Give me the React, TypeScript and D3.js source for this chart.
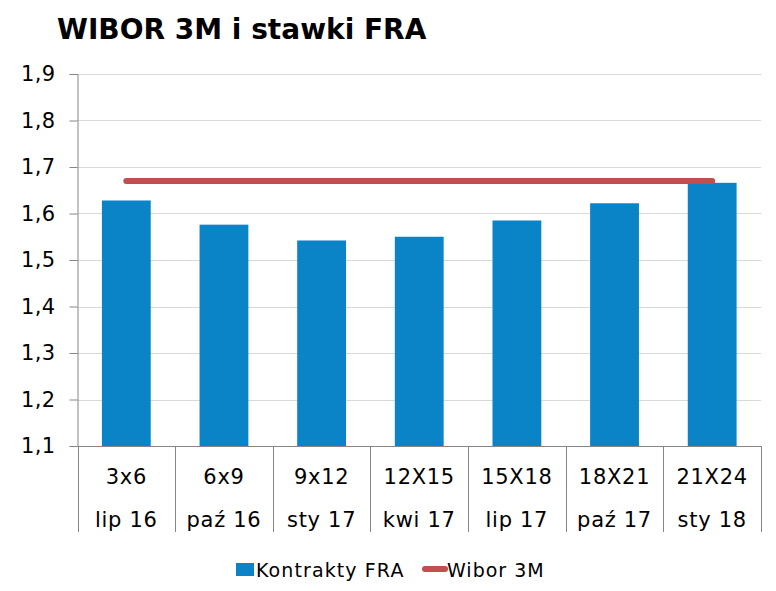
import React, { useRef, useEffect } from "react";
import * as d3 from "d3";

// FRA contracts (two-row category labels)
const contracts = ["3x6", "6x9", "9x12", "12X15", "15X18", "18X21", "21X24"];
const months = ["lip 16", "paź 16", "sty 17", "kwi 17", "lip 17", "paź 17", "sty 18"];
const fraValues = [1.628, 1.576, 1.542, 1.55, 1.585, 1.622, 1.666];
const wiborValues = [1.67, 1.67, 1.67, 1.67, 1.67, 1.67, 1.67];
const yTicks = [1.1, 1.2, 1.3, 1.4, 1.5, 1.6, 1.7, 1.8, 1.9];

const W = 776;
const H = 591;
const FONT = "'DejaVu Sans', Verdana, sans-serif";
const BAR = "#0A84C6";
const LINE = "#C0504D";

export default function App() {
  const svgRef = useRef<SVGSVGElement>(null);

  useEffect(() => {
    const svg = d3.select(svgRef.current);
    svg.selectAll("*").remove();

    const left = 77.5, right = 761, top = 74, bottom = 446;

    const x = d3.scaleBand().domain(contracts).range([left, right]).paddingInner(0).paddingOuter(0);
    const y = d3.scaleLinear().domain([1.1, 1.9]).range([bottom, top]);

    svg.append("text")
      .attr("x", 57).attr("y", 39)
      .attr("font-family", FONT).attr("font-weight", "bold").attr("font-size", 28)
      .attr("fill", "#000")
      .text("WIBOR 3M i stawki FRA");

    // gridlines
    svg.append("g").selectAll("line")
      .data(yTicks.slice(1))
      .join("line")
      .attr("x1", left).attr("x2", right)
      .attr("y1", d => Math.round(y(d)) + 0.5).attr("y2", d => Math.round(y(d)) + 0.5)
      .attr("stroke", "#D9D9D9").attr("stroke-width", 1);

    // y axis
    const yAxis = d3.axisLeft(y).tickValues(yTicks).tickSize(8).tickPadding(14)
      .tickFormat(d => d3.format(".1f")(d as number).replace(".", ","));
    const gy = svg.append("g").attr("transform", `translate(${left},0)`).call(yAxis);
    gy.select(".domain").attr("stroke", "#868686");
    gy.selectAll(".tick line").attr("stroke", "#868686");
    gy.selectAll(".tick text").attr("font-family", FONT).attr("font-size", 21)
      .attr("letter-spacing", 0.4).attr("fill", "#000");

    // bars
    const bw = x.bandwidth() * 0.5;
    svg.append("g").selectAll("rect")
      .data(fraValues)
      .join("rect")
      .attr("x", (_, i) => x(contracts[i])! + (x.bandwidth() - bw) / 2)
      .attr("width", bw)
      .attr("y", d => y(d))
      .attr("height", d => bottom - y(d))
      .attr("fill", BAR);

    // category axis
    const gx = svg.append("g");
    gx.append("line")
      .attr("x1", left).attr("x2", right).attr("y1", bottom + 0.5).attr("y2", bottom + 0.5)
      .attr("stroke", "#868686");
    const edges = contracts.map(c => x(c)!).concat([right]);
    gx.selectAll("line.sep")
      .data(edges)
      .join("line")
      .attr("class", "sep")
      .attr("x1", d => Math.round(d) + 0.5).attr("x2", d => Math.round(d) + 0.5)
      .attr("y1", bottom).attr("y2", 532)
      .attr("stroke", "#868686");
    gx.selectAll("text.c1")
      .data(contracts)
      .join("text")
      .attr("class", "c1")
      .attr("x", d => x(d)! + x.bandwidth() / 2).attr("y", 484)
      .attr("text-anchor", "middle")
      .attr("font-family", FONT).attr("font-size", 21).attr("letter-spacing", 0.7)
      .text(d => d);
    gx.selectAll("text.c2")
      .data(months)
      .join("text")
      .attr("class", "c2")
      .attr("x", (_, i) => x(contracts[i])! + x.bandwidth() / 2).attr("y", 527)
      .attr("text-anchor", "middle")
      .attr("font-family", FONT).attr("font-size", 21).attr("letter-spacing", 0.7)
      .text(d => d);

    // Wibor line
    const ln = d3.line<number>()
      .x((_, i) => x(contracts[i])! + x.bandwidth() / 2)
      .y(d => y(d));
    svg.append("path")
      .datum(wiborValues)
      .attr("d", ln)
      .attr("fill", "none")
      .attr("stroke", LINE)
      .attr("stroke-width", 6)
      .attr("stroke-linecap", "round");

    // legend
    const lg = svg.append("g");
    lg.append("rect").attr("x", 236).attr("y", 563).attr("width", 18).attr("height", 13).attr("fill", BAR);
    lg.append("text").attr("x", 256).attr("y", 577)
      .attr("font-family", FONT).attr("font-size", 19).attr("letter-spacing", 1.1).text("Kontrakty FRA");
    lg.append("line").attr("x1", 425).attr("x2", 445).attr("y1", 569).attr("y2", 569)
      .attr("stroke", LINE).attr("stroke-width", 6).attr("stroke-linecap", "round");
    lg.append("text").attr("x", 447).attr("y", 577)
      .attr("font-family", FONT).attr("font-size", 19).attr("letter-spacing", 1.0).text("Wibor 3M");
  }, []);

  return (
    <svg ref={svgRef} width={W} height={H}
      style={{ position: "absolute", left: 0, top: 0, background: "#fff" }} />
  );
}
